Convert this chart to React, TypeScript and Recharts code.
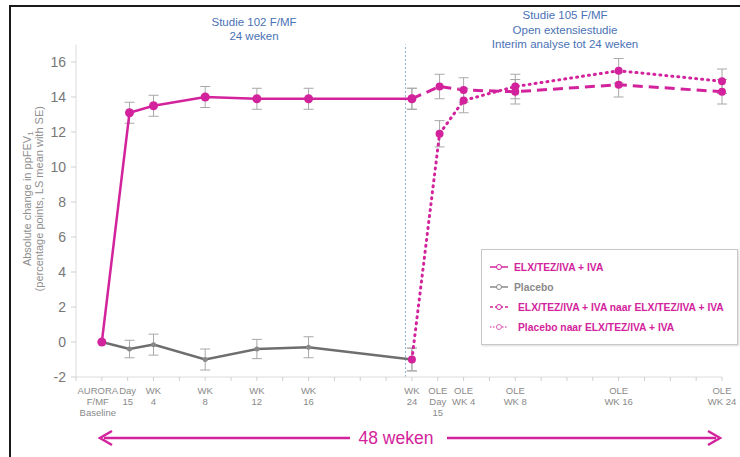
import { LineChart, Line, XAxis, YAxis, ErrorBar, ReferenceLine, Legend, Label } from "recharts";

// weeks since AURORA baseline; Day 15 = 15/7 weeks
const weeks = [0, 2.14, 4, 8, 12, 16, 24];
const elxMean = [0, 13.1, 13.5, 14.0, 13.9, 13.9, 13.9];
const elxSe = [0, 0.6, 0.6, 0.6, 0.6, 0.6, 0.6];
const placeboMean = [0, -0.4, -0.15, -1.0, -0.4, -0.3, -1.0];
const placeboSe = [0, 0.5, 0.6, 0.6, 0.55, 0.6, 0.65];

const oleWeeks = [24, 26.14, 28, 32, 40, 48];
const elxOleMean = [13.9, 14.6, 14.4, 14.3, 14.7, 14.3];
const elxOleSe = [0.6, 0.7, 0.7, 0.7, 0.7, 0.7];
const placeboOleMean = [-1.0, 11.9, 13.8, 14.6, 15.5, 14.9];
const placeboOleSe = [0.65, 0.75, 0.7, 0.7, 0.7, 0.7];

const xTicks = [-2, 0, 2, 4, 6, 8, 10, 12, 14, 16, 18, 20, 22, 24, 26, 28, 30, 32, 34, 36, 38, 40, 42, 44, 46, 48];
const xTickLabels: Record<number, string[]> = {
  0: ["AURORA", "F/MF", "Baseline"],
  2: ["Day", "15"],
  4: ["WK", "4"],
  8: ["WK", "8"],
  12: ["WK", "12"],
  16: ["WK", "16"],
  24: ["WK", "24"],
  26: ["OLE", "Day", "15"],
  28: ["OLE", "WK 4"],
  32: ["OLE", "WK 8"],
  40: ["OLE", "WK 16"],
  48: ["OLE", "WK 24"],
};
const yTicks = [-2, 0, 2, 4, 6, 8, 10, 12, 14, 16];

const seriesNames = [
  "ELX/TEZ/IVA + IVA",
  "Placebo",
  "ELX/TEZ/IVA + IVA naar ELX/TEZ/IVA + IVA",
  "Placebo naar ELX/TEZ/IVA + IVA",
];

const MAGENTA = "#d3239c";
const GREY = "#6e6e6e";
const FONT = "'Liberation Sans', Arial, sans-serif";

const toRows = (xs: number[], ys: number[], se: number[]) =>
  xs.map((x, i) => ({ x, y: ys[i], se: se[i] }));

const elxData = toRows(weeks, elxMean, elxSe);
const placeboData = toRows(weeks, placeboMean, placeboSe);
const elxOleData = toRows(oleWeeks, elxOleMean, elxOleSe);
const placeboOleData = toRows(oleWeeks, placeboOleMean, placeboOleSe);

const XTick = (props: any) => {
  const { x, y, payload } = props;
  const lines = xTickLabels[payload.value];
  if (!lines) return <g />;
  return (
    <text x={x} y={y} textAnchor="middle" fontSize={9.5} fill="#8a8a8a" fontFamily={FONT}>
      {lines.map((l, i) => (
        <tspan key={i} x={payload.value === 0 ? x - 4 : x} dy={11}>
          {l}
        </tspan>
      ))}
    </text>
  );
};

const YLabel = (props: any) => {
  const vb = props.viewBox || { x: 0, y: 0, width: 76, height: 332 };
  const cy = vb.y + vb.height / 2 - 12;
  const x1 = vb.x + 31;
  const x2 = vb.x + 43;
  return (
    <g fontFamily={FONT} fontSize={11} fill="#8f8f8f">
      <text x={x1} y={cy} textAnchor="middle" transform={`rotate(-90 ${x1} ${cy})`}>
        Absolute change in ppFEV<tspan fontSize={8} dy={2}>1</tspan>
      </text>
      <text x={x2} y={cy} textAnchor="middle" transform={`rotate(-90 ${x2} ${cy})`}>
        (percentage points, LS mean with SE)
      </text>
    </g>
  );
};

const legendStyles = [
  { color: MAGENTA, text: MAGENTA, dash: undefined as string | undefined },
  { color: "#8a8a8a", text: "#8a8a8a", dash: undefined },
  { color: MAGENTA, text: MAGENTA, dash: "3 2" },
  { color: "#e066b8", text: MAGENTA, dash: "1.5 1.5" },
];

const LegendBox = () => (
  <div
    style={{
      boxSizing: "border-box",
      width: 257,
      height: 96,
      border: "1px solid #c8c8c8",
      boxShadow: "1px 1px 2px rgba(0,0,0,0.15)",
      background: "#fff",
      padding: "7px 0 0 7px",
      fontFamily: FONT,
    }}
  >
    {seriesNames.map((name, i) => (
      <div key={name} style={{ display: "flex", alignItems: "center", height: 20 }}>
        <svg width={22} height={10} style={{ marginRight: i >= 2 ? 7 : 3 }}>
          <line x1={1} y1={5} x2={19} y2={5} stroke={legendStyles[i].color} strokeWidth={1.5} strokeDasharray={legendStyles[i].dash} />
          <circle cx={10} cy={5} r={2.5} fill="#fff" stroke={legendStyles[i].color} strokeWidth={1} />
        </svg>
        <span style={{ fontSize: 10.3, fontWeight: "bold", color: legendStyles[i].text }}>{name}</span>
      </div>
    ))}
  </div>
);

export default function App() {
  return (
    <div style={{ position: "absolute", left: 0, top: 0, width: 740, height: 457, background: "#fff", overflow: "hidden" }}>
      <div
        style={{
          position: "absolute",
          left: 9,
          top: 5,
          width: 800,
          height: 500,
          borderLeft: "2px solid #1a1a1a",
          borderTop: "2px solid #1a1a1a",
        }}
      />
      <LineChart width={740} height={457} margin={{ top: 44.5, right: 18, bottom: 50, left: 0 }}>
        <XAxis
          type="number"
          dataKey="x"
          domain={[-2, 48]}
          ticks={xTicks}
          interval={0}
          tickSize={4}
          tickMargin={2}
          height={30}
          axisLine={{ stroke: "#dcdcdc" }}
          tickLine={{ stroke: "#cfcfcf" }}
          tick={<XTick />}
        />
        <YAxis
          type="number"
          domain={[-2, 17]}
          ticks={yTicks}
          interval={0}
          width={76}
          tickSize={5}
          tickMargin={5}
          axisLine={{ stroke: "#dcdcdc" }}
          tickLine={{ stroke: "#cfcfcf" }}
          tick={{ fill: "#777", fontSize: 14, fontFamily: FONT }}
        >
          <Label content={<YLabel />} />
        </YAxis>
        <ReferenceLine x={23.5} stroke="#8fb0d0" strokeDasharray="2 2" strokeWidth={1} />
        <Legend
          layout="vertical"
          align="center"
          verticalAlign="middle"
          content={<LegendBox />}
          wrapperStyle={{ left: 481, top: 249, width: 257, height: 96 }}
        />
        <Line
          data={placeboData}
          dataKey="y"
          name={seriesNames[1]}
          stroke={GREY}
          strokeWidth={2.5}
          dot={{ r: 2.5, fill: "#888", stroke: "#888", strokeWidth: 0 }}
          activeDot={false}
          isAnimationActive={false}
        >
          <ErrorBar dataKey="se" direction="y" width={5} stroke="#a8a8a8" strokeWidth={1} />
        </Line>
        <Line
          data={elxOleData}
          dataKey="y"
          name={seriesNames[2]}
          stroke={MAGENTA}
          strokeWidth={3}
          strokeDasharray="10 6"
          dot={{ r: 4, fill: MAGENTA, stroke: MAGENTA, strokeWidth: 0, strokeDasharray: "none" }}
          activeDot={false}
          isAnimationActive={false}
        >
          <ErrorBar dataKey="se" direction="y" width={5} stroke="#a8a8a8" strokeWidth={1} />
        </Line>
        <Line
          data={placeboOleData}
          dataKey="y"
          name={seriesNames[3]}
          stroke={MAGENTA}
          strokeWidth={3}
          strokeDasharray="1 5"
          strokeLinecap="round"
          dot={{ r: 4, fill: MAGENTA, stroke: MAGENTA, strokeWidth: 0, strokeDasharray: "none" }}
          activeDot={false}
          isAnimationActive={false}
        >
          <ErrorBar dataKey="se" direction="y" width={5} stroke="#a8a8a8" strokeWidth={1} />
        </Line>
        <Line
          data={elxData}
          dataKey="y"
          name={seriesNames[0]}
          stroke={MAGENTA}
          strokeWidth={2.5}
          dot={{ r: 4.5, fill: MAGENTA, stroke: MAGENTA, strokeWidth: 0 }}
          activeDot={false}
          isAnimationActive={false}
        >
          <ErrorBar dataKey="se" direction="y" width={5} stroke="#a8a8a8" strokeWidth={1} />
        </Line>
      </LineChart>
      <div style={{ position: "absolute", left: 154, top: 15, width: 200, textAlign: "center", color: "#4a72b5", fontSize: 11.5, lineHeight: "14px", fontFamily: FONT }}>
        Studie 102 F/MF
        <br />
        24 weken
      </div>
      <div style={{ position: "absolute", left: 465, top: 8, width: 200, textAlign: "center", color: "#4a72b5", fontSize: 11.5, lineHeight: "14.5px", fontFamily: FONT }}>
        Studie 105 F/MF
        <br />
        Open extensiestudie
        <br />
        Interim analyse tot 24 weken
      </div>
      <svg width={740} height={457} style={{ position: "absolute", left: 0, top: 0, pointerEvents: "none" }}>
        <line x1={104} y1={438} x2={350} y2={438} stroke={MAGENTA} strokeWidth={2.5} />
        <polyline points="112,431 100,438 112,445" fill="none" stroke={MAGENTA} strokeWidth={2.5} />
        <line x1={447} y1={438} x2={716} y2={438} stroke={MAGENTA} strokeWidth={2.5} />
        <polyline points="708,431 720,438 708,445" fill="none" stroke={MAGENTA} strokeWidth={2.5} />
        <text x={396} y={444} textAnchor="middle" fontSize={17.5} fill={MAGENTA} fontFamily={FONT}>
          48 weken
        </text>
      </svg>
    </div>
  );
}
